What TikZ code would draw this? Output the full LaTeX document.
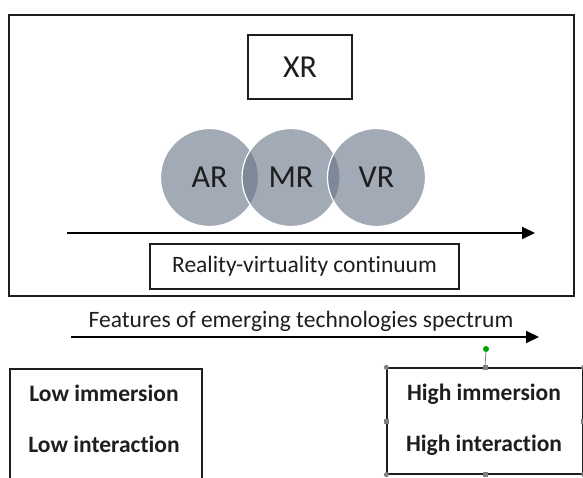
\documentclass[tikz,border=0pt]{standalone}
\usepackage{fontspec}
\setmainfont{Carlito}[Ligatures=NoCommon]
\usetikzlibrary{positioning,arrows.meta}
\tikzset{font=\fontsize{23.5}{28}\selectfont}

\definecolor{discgray}{RGB}{100,113,133}
\definecolor{inkgray}{RGB}{30,30,30}

\begin{document}
\begin{tikzpicture}[x=1pt, y=-1pt, text=inkgray]
	\clip (0,0) rectangle (583,478);
	\begin{scope}
		\tikzstyle{every node}=[align=center, inner sep=1pt]
		\tikzstyle{box}=[draw=inkgray, line width=1.3pt, inner sep=0pt]
		\tikzstyle{disc}=[circle, minimum size=98pt, fill=discgray, fill opacity=0.6, text opacity=1, draw=white, line width=1.2pt]
		\tikzstyle{spectrum}=[line width=2pt, -{Triangle[length=13pt, width=12pt]}]
		\tikzstyle{bigtext}=[font=\fontsize{32}{36}\selectfont]
		\tikzstyle{boldtext}=[font=\fontsize{23.5}{28}\selectfont\bfseries]

		\node[box, line width=2pt, minimum width=564.5pt, minimum height=280.5pt] (frame) at (291.25, 155.25) {};
		\node[box, minimum width=104pt, minimum height=64pt, bigtext] (xr) at (300, 67) {XR};

		\node[disc, bigtext] (ar) at (209.5, 177.5) {AR};
		\node[disc, bigtext] (mr) at (291, 177.5) {MR};
		\node[disc, bigtext] (vr) at (376.5, 177.5) {VR};

		\coordinate (rvstart) at (67, 233);
		\coordinate (rvend) at (535, 233);
		\draw[spectrum] (rvstart) -- (rvend);
		\node[box, minimum width=309pt, minimum height=45pt] (rv) at (304.5, 266.5) {Reality-virtuality continuum};

		\node[anchor=base] (feat) at (301, 327) {Features of emerging technologies spectrum};
		\coordinate (ftstart) at (71, 337);
		\coordinate (ftend) at (539, 337);
		\draw[spectrum] (ftstart) -- (ftend);

		\node[box, minimum width=192pt, minimum height=122pt] (low) at (106, 430) {};
		\node[boldtext, anchor=base] (lowimm) at (104, 401) {Low immersion};
		\node[boldtext, anchor=base] (lowint) at (104, 452) {Low interaction};

		\node[box, minimum width=196pt, minimum height=106pt] (high) at (485, 421) {};
		\node[boldtext, anchor=base] (highimm) at (484, 400) {High immersion};
		\node[boldtext, anchor=base] (highint) at (484, 451) {High interaction};

		% selection handles
		\node[circle, fill=green!65!black, minimum size=6pt, inner sep=0pt] (rot) at (486, 349) {};
		\draw[gray, line width=0.8pt] (rot) -- (high.north);
		\foreach \c in {north west, north east, south west, south east}
			\node[circle, fill=gray, minimum size=5pt, inner sep=0pt] at (high.\c) {};
		\foreach \c in {north, south, west, east}
			\node[fill=gray, minimum size=5pt, inner sep=0pt] at (high.\c) {};
	\end{scope}
\end{tikzpicture}
\end{document}
